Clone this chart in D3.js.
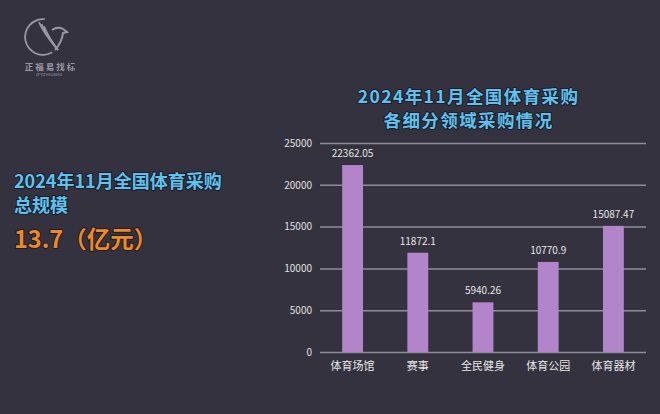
<!DOCTYPE html>
<html><head><meta charset="utf-8">
<script src="https://cdn.jsdelivr.net/npm/d3@7/dist/d3.min.js"></script>
<style>html,body{margin:0;padding:0;background:#35323f;}svg{display:block;}</style>
</head><body>
<svg id="c" width="660" height="414"></svg>
<script>
const categories = ["体育场馆","赛事","全民健身","体育公园","体育器材"];
const values = [22362.05, 11872.1, 5940.26, 10770.9, 15087.47];
const valueLabels = ["22362.05","11872.1","5940.26","10770.9","15087.47"];
const yTicks = [0,5000,10000,15000,20000,25000];
const chartTitle = ["2024年11月全国体育采购","各细分领域采购情况"];
const sideTitle = ["2024年11月全国体育采购","总规模"];
const sideValue = "13.7（亿元）";

const svg = d3.select("#c");
svg.append("rect").attr("width",660).attr("height",414).attr("fill","#35323f");
const font = "'Noto Sans CJK SC','DejaVu Sans',sans-serif";

// logo
const lc = "#9a98a3";
const logo = svg.append("g").attr("fill","none").attr("stroke",lc);
logo.append("path").attr("d", d3.arc()({innerRadius:17,outerRadius:18.8,startAngle:2.6,endAngle:2*Math.PI+0.1})).attr("transform","translate(43,37)").attr("fill",lc).attr("stroke","none");
[[0,0],[2.5,2.2],[5,4.4]].forEach(([dx,dy])=>{
  logo.append("path").attr("d",`M${39+dx},${22+dy} Q${44+dx},${34+dy} ${58},${50}`).attr("stroke-width",1.8);
});
logo.append("path").attr("d","M52,30 Q58,26 63,29 L67,32 L63,33 Q62,42 55,50").attr("stroke-width",2);
svg.append("text").attr("x",51).attr("y",70).attr("text-anchor","middle").attr("font-family",font).attr("font-size",8.5).attr("font-weight","bold").attr("fill",lc).attr("letter-spacing",2).text("正福易找标");
svg.append("text").attr("x",49).attr("y",76).attr("text-anchor","middle").attr("font-family",font).attr("font-size",3.8).attr("fill",lc).text("ZFYIZHAOBIAO");

// side text
const shadow = (sel)=>sel.attr("paint-order","stroke").attr("stroke","#1e1c26").attr("stroke-width",2);
sideTitle.forEach((t,i)=>{
  shadow(svg.append("text").attr("x",14).attr("y",188+i*24).attr("font-family",font).attr("font-size",18).attr("font-weight","bold").attr("fill","#5cc3f0").text(t));
});
shadow(svg.append("text").attr("x",14).attr("y",248).attr("font-family",font).attr("font-size",23.5).attr("font-weight","bold").attr("fill","#f0891f").text(sideValue));

chartTitle.forEach((t,i)=>{
  shadow(svg.append("text").attr("x",468.6).attr("y",103+i*24).attr("text-anchor","middle").attr("font-family",font).attr("font-size",17.5).attr("letter-spacing",1.4).attr("font-weight","bold").attr("fill","#5cc3f0").text(t));
});

// chart
const x = d3.scaleBand().domain(categories).range([320,646]).paddingInner(0.68).paddingOuter(0.34);
const y = d3.scaleLinear().domain([0,25000]).range([352,143]);

const yAxis = svg.append("g").attr("transform","translate(320,0)")
  .call(d3.axisLeft(y).tickValues(yTicks).tickSize(-326).tickFormat(d=>String(d)));
yAxis.select(".domain").remove();
yAxis.selectAll(".tick line").attr("stroke","#8e8c96").attr("stroke-width",1.5);
yAxis.selectAll(".tick text").attr("x",-8).attr("fill","#e0e0e0").attr("font-family",font).attr("font-size",10);

svg.append("g").selectAll("rect").data(values).join("rect")
  .attr("x",(d,i)=>x(categories[i])).attr("width",x.bandwidth())
  .attr("y",d=>y(d)).attr("height",d=>y(0)-y(d)).attr("fill","#b284c9");

svg.append("g").selectAll("text").data(values).join("text")
  .attr("x",(d,i)=>x(categories[i])+x.bandwidth()/2).attr("y",d=>y(d)-8)
  .attr("text-anchor","middle").attr("font-family",font).attr("font-size",10).attr("fill","#e6e6e6")
  .text((d,i)=>valueLabels[i]);

const xAxis = svg.append("g").attr("transform","translate(0,352)").call(d3.axisBottom(x).tickSize(0));
xAxis.select(".domain").remove();
xAxis.selectAll(".tick text").attr("dy",0).attr("y",18).attr("fill","#e6e6e6").attr("font-family",font).attr("font-size",11);
</script>
</body></html>
